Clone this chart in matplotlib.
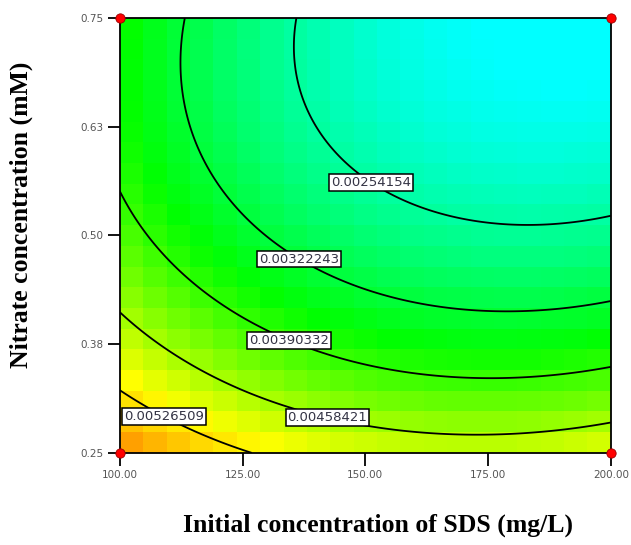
import numpy as np
import matplotlib.pyplot as plt
from matplotlib.colors import LinearSegmentedColormap

# quadratic response surface in coded units (A = SDS, B = nitrate)
coef_names = ["b0", "bA", "bB", "bAB", "bAA", "bBB"]
coef_vals = [0.002843592, -0.000710168, -0.001347360, -0.000233840, 0.000545144, 0.000737046]

sds_range = [100, 200]
nitrate_range = [0.25, 0.75]
n_cells = 21

levels = [0.00254154, 0.00322243, 0.00390332, 0.00458421, 0.00526509]
label_pos = [(151.1, 0.560), (137.3, 0.480), (134.6, 0.382), (142.6, 0.298), (109.4, 0.297)]

design_x = [100, 100, 200, 200]
design_y = [0.25, 0.75, 0.75, 0.25]

xticks = [100, 125, 150, 175, 200]
xticklabels = ["100.00", "125.00", "150.00", "175.00", "200.00"]
yticks = [0.25, 0.375, 0.5, 0.625, 0.75]
yticklabels = ["0.25", "0.38", "0.50", "0.63", "0.75"]

# colour scale stops (response value -> colour)
c_vals = [0.0019, 0.0036, 0.0051, 0.0059]
c_cols = ["#00ffff", "#00ff00", "#ffff00", "#ff8c00"]


def response(x, y):
    b0, ba, bb, bab, baa, bbb = coef_vals
    a = (x - 150) / 50
    b = (y - 0.5) / 0.25
    return b0 + ba*a + bb*b + bab*a*b + baa*a*a + bbb*b*b


vmin, vmax = c_vals[0], c_vals[-1]
cmap = LinearSegmentedColormap.from_list(
    "de", [((v - vmin) / (vmax - vmin), c) for v, c in zip(c_vals, c_cols)])

fig = plt.figure(figsize=(6.31, 5.45), dpi=100)
ax = fig.add_axes([0.190, 0.169, 0.778, 0.798])

# coloured cells
xe = np.linspace(sds_range[0], sds_range[1], n_cells + 1)
ye = np.linspace(nitrate_range[0], nitrate_range[1], n_cells + 1)
xc = (xe[:-1] + xe[1:]) / 2
yc = (ye[:-1] + ye[1:]) / 2
XC, YC = np.meshgrid(xc, yc)
ax.pcolormesh(xe, ye, response(XC, YC), cmap=cmap, vmin=vmin, vmax=vmax,
              shading="flat", antialiased=False)

# contour lines
xs = np.linspace(sds_range[0], sds_range[1], 300)
ys = np.linspace(nitrate_range[0], nitrate_range[1], 300)
X, Y = np.meshgrid(xs, ys)
cs = ax.contour(X, Y, response(X, Y), levels=levels, colors="black", linewidths=1.3)
labels = ax.clabel(cs, fmt=lambda v: f"{v:.8f}", manual=label_pos, inline=False,
                   fontsize=9.5)
for t in labels:
    t.set_rotation(0)
    t.set_color("#333344")
    t.set_bbox(dict(facecolor="white", edgecolor="black", linewidth=1.1, pad=1.3))
    t.set_zorder(5)

ax.scatter(design_x, design_y, s=45, color="red", edgecolor="#990000",
           linewidth=0.6, zorder=6, clip_on=False)

ax.set_xlim(sds_range)
ax.set_ylim(nitrate_range)
ax.set_xticks(xticks)
ax.set_xticklabels(xticklabels)
ax.set_yticks(yticks)
ax.set_yticklabels(yticklabels)
ax.tick_params(length=9, width=1.3, pad=3, labelsize=7.5, labelcolor="#555555")
for sp in ax.spines.values():
    sp.set_linewidth(1.3)

serif = {"family": "Liberation Serif", "weight": "bold", "size": 18.5}
ax.set_xlabel("Initial concentration of SDS (mg/L)", fontdict=serif, va="center")
ax.xaxis.set_label_coords(0.525, -0.1655)
ax.set_ylabel("Nitrate concentration (mM)", fontdict=serif, va="center")
ax.yaxis.set_label_coords(-0.2, 0.547)

fig.savefig("out.png", dpi=100)
